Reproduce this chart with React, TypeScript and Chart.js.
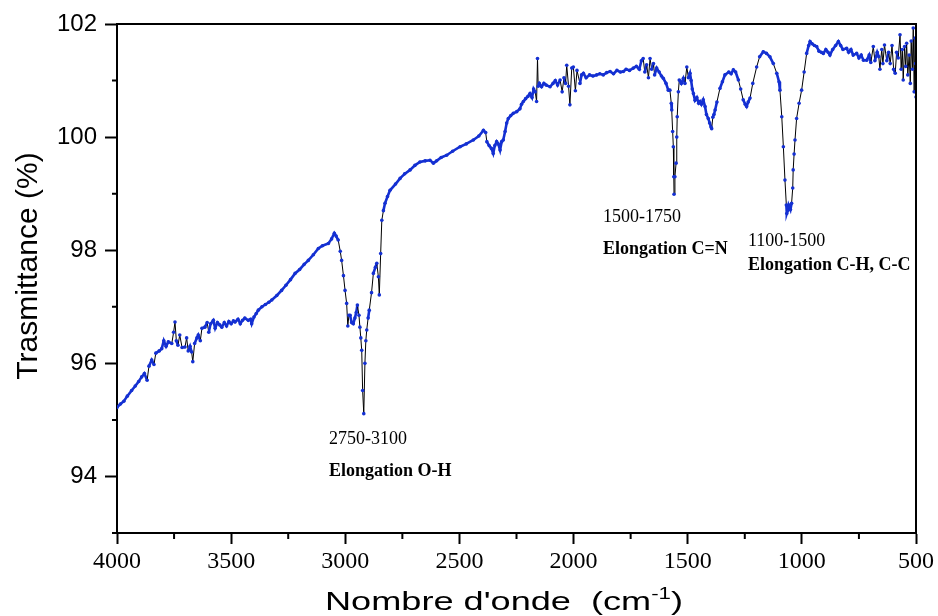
import React, { useEffect, useRef } from 'react';
import { Chart, registerables } from 'chart.js';

Chart.register(...registerables);

// Wavenumber (cm-1) and transmittance (%)
const wavenumbers = [
  4000, 3985, 3970, 3955, 3936, 3920, 3905, 3892, 3880, 3868,
  3860, 3848, 3838, 3830, 3815, 3804, 3795, 3785, 3775, 3760,
  3752, 3746, 3740, 3733, 3725, 3715, 3702, 3695, 3688, 3680,
  3673, 3668, 3660, 3650, 3644, 3635, 3628, 3615, 3605, 3598,
  3590, 3578, 3570, 3560, 3550, 3541, 3530, 3520, 3510, 3500,
  3490, 3483, 3470, 3460, 3450, 3440, 3425, 3415, 3410, 3400,
  3390, 3381, 3365, 3350, 3335, 3322, 3300, 3279, 3260, 3240,
  3220, 3200, 3180, 3162, 3140, 3118, 3100, 3074, 3060, 3048,
  3040, 3031, 3022, 3016, 3008, 3001, 2994, 2989, 2984, 2979,
  2972, 2965, 2958, 2952, 2947, 2940, 2936, 2932, 2928, 2924,
  2919, 2914, 2910, 2906, 2900, 2895, 2885, 2877, 2868, 2862,
  2855, 2851, 2845, 2840, 2833, 2826, 2815, 2804, 2780, 2760,
  2740, 2716, 2695, 2673, 2650, 2629, 2614, 2600, 2580, 2556,
  2530, 2497, 2470, 2439, 2415, 2395, 2385, 2380, 2370, 2360,
  2352, 2345, 2337, 2330, 2322, 2315, 2308, 2300, 2293, 2286,
  2275, 2264, 2249, 2235, 2228, 2220, 2210, 2200, 2191, 2182,
  2175, 2168, 2162, 2158, 2155, 2150, 2140, 2130, 2120, 2103,
  2090, 2080, 2070, 2059, 2050, 2042, 2035, 2030, 2022, 2016,
  2008, 2001, 1992, 1985, 1972, 1965, 1957, 1945, 1930, 1915,
  1899, 1885, 1870, 1855, 1840, 1825, 1810, 1795, 1782, 1770,
  1755, 1738, 1725, 1712, 1703, 1695, 1688, 1680, 1672, 1665,
  1658, 1650, 1645, 1636, 1625, 1615, 1607, 1595, 1585, 1578,
  1572, 1570, 1566, 1563, 1561, 1560, 1556, 1551, 1548, 1546,
  1541, 1537, 1528, 1519, 1512, 1504, 1497, 1490, 1485, 1480,
  1475, 1468, 1460, 1452, 1446, 1440, 1432, 1424, 1418, 1410,
  1404, 1398, 1395, 1390, 1385, 1380, 1372, 1359, 1348, 1337,
  1320, 1310, 1300, 1290, 1278, 1268, 1257, 1248, 1242, 1235,
  1227, 1215, 1198, 1185, 1169, 1155, 1140, 1125, 1110, 1100,
  1096, 1088, 1081, 1074, 1068, 1066, 1062, 1058, 1055, 1050,
  1045, 1040, 1038, 1034, 1030, 1023, 1012, 1001, 990, 979,
  970, 964, 955, 945, 935, 925, 915, 906, 895, 885,
  877, 865, 852, 840, 830, 820, 804, 795, 785, 775,
  760, 750, 740, 730, 716, 705, 698, 687, 680, 670,
  663, 658, 650, 645, 638, 628, 620, 613, 605, 598,
  591, 585, 578, 570, 565, 560, 556, 550, 545, 541,
  536, 530, 525, 521, 516, 512, 508, 504, 502, 500,
];

const transmittance = [
  95.22, 95.28, 95.33, 95.42, 95.52, 95.60, 95.68, 95.76, 95.82, 95.70,
  95.95, 96.06, 95.98, 96.18, 96.22, 96.26, 96.40, 96.30, 96.38, 96.35,
  96.55, 96.73, 96.40, 96.32, 96.50, 96.28, 96.29, 96.45, 96.22, 96.30,
  96.20, 96.03, 96.35, 96.45, 96.50, 96.40, 96.62, 96.64, 96.72, 96.55,
  96.70, 96.76, 96.62, 96.72, 96.68, 96.64, 96.72, 96.66, 96.74, 96.70,
  96.75, 96.73, 96.78, 96.70, 96.76, 96.80, 96.76, 96.78, 96.70, 96.82,
  96.88, 96.94, 97.00, 97.04, 97.08, 97.12, 97.20, 97.29, 97.38, 97.48,
  97.59, 97.66, 97.75, 97.82, 97.92, 98.03, 98.08, 98.12, 98.20, 98.30,
  98.25, 98.18, 97.98, 97.82, 97.55, 97.29, 97.06, 96.66, 96.85, 96.85,
  96.72, 96.70, 96.80, 96.90, 97.03, 96.85, 96.64, 96.45, 96.23, 95.52,
  95.11, 96.00, 96.40, 96.59, 96.80, 96.94, 97.25, 97.59, 97.70, 97.77,
  97.53, 97.21, 97.94, 98.53, 98.70, 98.83, 98.95, 99.06, 99.17, 99.27,
  99.35, 99.42, 99.50, 99.56, 99.58, 99.59, 99.54, 99.58, 99.64, 99.68,
  99.75, 99.83, 99.88, 99.95, 100.02, 100.12, 100.08, 99.92, 99.85, 99.80,
  99.71, 99.85, 99.92, 99.88, 99.77, 99.92, 99.95, 100.10, 100.25, 100.33,
  100.38, 100.42, 100.45, 100.50, 100.58, 100.63, 100.68, 100.72, 100.77, 100.70,
  100.85, 100.80, 100.63, 101.39, 100.90, 100.95, 100.89, 100.95, 100.92, 100.89,
  100.95, 101.00, 100.92, 101.01, 100.80, 101.05, 100.95, 101.27, 100.90, 100.57,
  101.22, 101.24, 100.82, 101.18, 100.95, 101.10, 101.13, 101.05, 101.10, 101.08,
  101.10, 101.12, 101.10, 101.14, 101.16, 101.12, 101.18, 101.15, 101.16, 101.20,
  101.18, 101.22, 101.25, 101.20, 101.35, 101.39, 101.15, 101.28, 101.05, 101.39,
  101.20, 101.30, 101.10, 101.22, 101.15, 101.08, 101.04, 100.95, 100.83, 100.83,
  100.60, 100.48, 100.10, 99.83, 99.30, 98.99, 99.30, 99.54, 100.00, 100.36,
  100.80, 101.01, 100.95, 101.04, 100.95, 101.24, 101.05, 101.13, 101.00, 100.85,
  100.77, 100.65, 100.70, 100.60, 100.63, 100.58, 100.66, 100.54, 100.40, 100.33,
  100.25, 100.18, 100.15, 100.35, 100.40, 100.48, 100.62, 100.86, 100.98, 101.10,
  101.15, 101.12, 101.19, 101.15, 101.01, 100.85, 100.66, 100.58, 100.54, 100.62,
  100.69, 100.95, 101.24, 101.42, 101.51, 101.48, 101.42, 101.30, 101.13, 100.98,
  100.83, 100.36, 99.83, 99.24, 98.80, 98.65, 98.70, 98.80, 98.77, 98.72,
  98.83, 99.10, 99.42, 99.70, 99.95, 100.33, 100.60, 100.83, 101.15, 101.48,
  101.62, 101.69, 101.65, 101.62, 101.60, 101.52, 101.50, 101.48, 101.55, 101.50,
  101.45, 101.55, 101.62, 101.69, 101.62, 101.55, 101.57, 101.50, 101.55, 101.45,
  101.48, 101.40, 101.45, 101.36, 101.36, 101.45, 101.32, 101.60, 101.35, 101.50,
  101.42, 101.20, 101.55, 101.30, 101.63, 101.35, 101.50, 101.30, 101.62, 101.20,
  101.13, 101.50, 101.40, 101.81, 101.20, 101.55, 101.01, 101.60, 101.25, 101.66,
  101.10, 101.45, 100.95, 101.70, 101.20, 101.93, 100.80, 101.75, 101.30, 100.71,
];

const xTickValues = [4000, 3500, 3000, 2500, 2000, 1500, 1000, 500];
const xMinorTicks = [3750, 3250, 2750, 2250, 1750, 1250, 750];
const yTickValues = [94, 96, 98, 100, 102];
const yMinorTicks = [93, 95, 97, 99, 101];

const annotationTexts = ['2750-3100', 'Elongation O-H', '1500-1750', 'Elongation C=N', '1100-1500', 'Elongation C-H, C-C'];
const annotationX = [3071, 3071, 1871, 1871, 1236, 1236];
const annotationY = [94.66, 94.09, 98.59, 98.02, 98.16, 97.74];
const annotationBold = [false, true, false, true, false, true];

const SANS = "'Liberation Sans', Arial, Helvetica, sans-serif";
const SERIF = "'Liberation Serif', 'Times New Roman', Times, serif";
const BLUE = '#1430d2';

const framePlugin = {
  id: 'frameAndText',
  afterDraw(chart: any) {
    const { ctx, chartArea, scales } = chart;
    const { left, right, top, bottom } = chartArea;
    const x = scales.x;
    const y = scales.y;
    ctx.save();
    ctx.strokeStyle = '#000';
    ctx.lineWidth = 2;
    ctx.beginPath();
    ctx.moveTo(left - 1, top);
    ctx.lineTo(right, top);
    ctx.lineTo(right, bottom + 1);
    ctx.stroke();

    // minor ticks
    ctx.beginPath();
    xMinorTicks.forEach((v) => {
      const px = x.getPixelForValue(v);
      ctx.moveTo(px, bottom);
      ctx.lineTo(px, bottom + 6);
    });
    yMinorTicks.forEach((v) => {
      const py = y.getPixelForValue(v);
      ctx.moveTo(left, py);
      ctx.lineTo(left - 5, py);
    });
    ctx.stroke();

    // annotations
    ctx.fillStyle = '#000';
    ctx.textAlign = 'left';
    ctx.textBaseline = 'middle';
    annotationTexts.forEach((t, i) => {
      ctx.font = (annotationBold[i] ? 'bold ' : '') + '18px ' + SERIF;
      ctx.fillText(t, x.getPixelForValue(annotationX[i]), y.getPixelForValue(annotationY[i]));
    });

    // y title
    ctx.save();
    ctx.translate(37, 266);
    ctx.rotate(-Math.PI / 2);
    ctx.font = '30px ' + SANS;
    ctx.textAlign = 'center';
    ctx.textBaseline = 'alphabetic';
    ctx.fillText('Trasmittance (%)', 0, 0);
    ctx.restore();

    // x title with superscript
    const main = "Nombre d'onde  (cm";
    const sup = '-1';
    const end = ')';
    ctx.save();
    ctx.textAlign = 'left';
    ctx.textBaseline = 'alphabetic';
    ctx.font = '26px ' + SANS;
    const w1 = ctx.measureText(main).width;
    const w3 = ctx.measureText(end).width;
    ctx.font = '16px ' + SANS;
    const w2 = ctx.measureText(sup).width;
    const total = w1 + w2 + w3;
    const target = 358;
    const sx = target / total;
    ctx.translate(504 - target / 2, 610);
    ctx.scale(sx, 1);
    ctx.font = '26px ' + SANS;
    ctx.fillText(main, 0, 0);
    ctx.font = '16px ' + SANS;
    ctx.fillText(sup, w1, -11);
    ctx.font = '26px ' + SANS;
    ctx.fillText(end, w1 + w2, 0);
    ctx.restore();

    ctx.restore();
  },
};

const segLen = (c: any) => Math.hypot(c.p1.x - c.p0.x, c.p1.y - c.p0.y);

export default function App() {
  const ref = useRef<HTMLCanvasElement>(null);
  useEffect(() => {
    document.body.style.margin = '0';
    const points = wavenumbers.map((w, i) => ({ x: w, y: transmittance[i] }));
    const chart = new Chart(ref.current as HTMLCanvasElement, {
      type: 'line',
      data: {
        datasets: [
          {
            data: points,
            borderColor: '#000',
            borderWidth: 1,
            pointRadius: 1.8,
            pointBackgroundColor: BLUE,
            pointBorderWidth: 0,
            pointHoverRadius: 0,
            tension: 0,
            segment: {
              borderColor: (c: any) => (segLen(c) > 9 ? '#000' : BLUE),
              borderWidth: (c: any) => (segLen(c) > 9 ? 1 : 2.6),
            },
          },
        ],
      },
      options: {
        animation: false,
        responsive: false,
        maintainAspectRatio: false,
        events: [],
        layout: { padding: { top: 24, right: 22, left: 0, bottom: 0 } },
        plugins: { legend: { display: false }, tooltip: { enabled: false } },
        scales: {
          x: {
            type: 'linear',
            min: 500,
            max: 4000,
            reverse: true,
            afterBuildTicks: (s: any) => {
              s.ticks = xTickValues.map((v) => ({ value: v }));
            },
            afterFit: (s: any) => {
              s.height = 83;
            },
            grid: { drawOnChartArea: false, drawTicks: true, tickLength: 11, tickWidth: 2, tickColor: '#000' },
            border: { display: true, color: '#000', width: 2 },
            ticks: {
              color: '#000',
              font: { family: SERIF, size: 24 },
              padding: 3,
              maxRotation: 0,
              autoSkip: false,
              callback: (v: any) => String(v),
            },
          },
          y: {
            type: 'linear',
            min: 93,
            max: 102,
            afterBuildTicks: (s: any) => {
              s.ticks = yTickValues.map((v) => ({ value: v }));
            },
            afterFit: (s: any) => {
              s.width = 117;
            },
            grid: { drawOnChartArea: false, drawTicks: true, tickLength: 12, tickWidth: 2, tickColor: '#000' },
            border: { display: true, color: '#000', width: 2 },
            ticks: {
              color: '#000',
              font: { family: SANS, size: 24 },
              padding: 8,
              autoSkip: false,
              callback: (v: any) => String(v),
            },
          },
        },
      },
      plugins: [framePlugin],
    } as any);
    return () => chart.destroy();
  }, []);
  return (
    <div style={{ width: 938, height: 616 }}>
      <canvas ref={ref} width={938} height={616} style={{ display: 'block' }} />
    </div>
  );
}
